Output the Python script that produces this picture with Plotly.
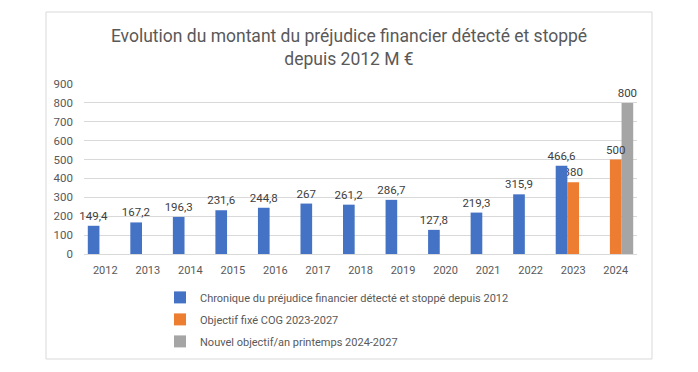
import plotly.graph_objects as go

years = ["2012", "2013", "2014", "2015", "2016", "2017", "2018", "2019", "2020", "2021", "2022", "2023", "2024"]
chronique = [149.4, 167.2, 196.3, 231.6, 244.8, 267, 261.2, 286.7, 127.8, 219.3, 315.9, 466.6, None]
objectif_cog = [None] * 11 + [380, 500]
nouvel_objectif = [None] * 12 + [800]

name_chronique = "Chronique du préjudice financier détecté et stoppé depuis 2012"
name_cog = "Objectif fixé COG 2023-2027"
name_nouvel = "Nouvel objectif/an printemps 2024-2027"
title_text = "Evolution du montant du préjudice financier détecté et stoppé<br>depuis 2012 M €"


def fmt(v):
    if v is None:
        return ""
    return ("%g" % v).replace(".", ",")


FONT = "Roboto, Arial"
BW = 0.274
W, H = 682, 356  # page body adds an 8px margin around the figure
series = [
    # drawn in this order (gray first so orange labels sit on top)
    (name_nouvel, nouvel_objectif, "#A5A5A5", BW, 3, "g3"),
    (name_cog, objectif_cog, "#ED7D31", 0.0, 2, "g2"),
    (name_chronique, chronique, "#4472C4", -BW, 1, "g1"),
]
fig = go.Figure()
for name, vals, color, shift, rank, grp in series:
    fig.add_trace(go.Bar(
        x=years, y=vals, name=name, marker=dict(color=color, line=dict(width=0)),
        width=BW, offset=shift - BW / 2, legendrank=rank, legendgroup=grp,
        text=[fmt(v) for v in vals], textposition="outside", constraintext="none",
        textfont=dict(size=11.5, color="#404040", family=FONT), cliponaxis=False,
    ))

fig.update_layout(
    width=W, height=H,
    margin=dict(l=76, r=W - 629, t=76, b=H - 246, autoexpand=False),
    paper_bgcolor="white", plot_bgcolor="white",
    barmode="overlay",
    font=dict(family=FONT, color="#595959", size=11.5),
    title=dict(text=title_text, x=341 / W, xref="container", xanchor="center",
               y=(H - 34) / H, yanchor="top",
               font=dict(size=17.5, color="#595959", family=FONT)),
    showlegend=True,
    legend=dict(orientation="v", x=0.17 - 18 / 553, xanchor="left", y=-0.17, yanchor="top",
                font=dict(size=11, color="#595959", family=FONT),
                itemwidth=30, tracegroupgap=3, bgcolor="rgba(0,0,0,0)",
                traceorder="grouped"),
    xaxis=dict(showgrid=False, showline=True, linecolor="#D9D9D9", ticks="",
               tickfont=dict(size=11, color="#595959"), ticklabelstandoff=6),
    yaxis=dict(range=[0, 900], dtick=100, showgrid=True, gridcolor="#D9D9D9",
               zeroline=False, showline=False, ticks="",
               tickfont=dict(size=11.5, color="#595959"), ticklabelstandoff=10),
)

fig.add_shape(type="rect", xref="paper", yref="paper",
              x0=(46 - 84) / 553, x1=(652 - 84) / 553,
              y0=(254 - 359) / 170, y1=(254 - 12) / 170,
              line=dict(color="#D9D9D9", width=1), fillcolor="rgba(0,0,0,0)", layer="below")

fig.write_html("out.html")
